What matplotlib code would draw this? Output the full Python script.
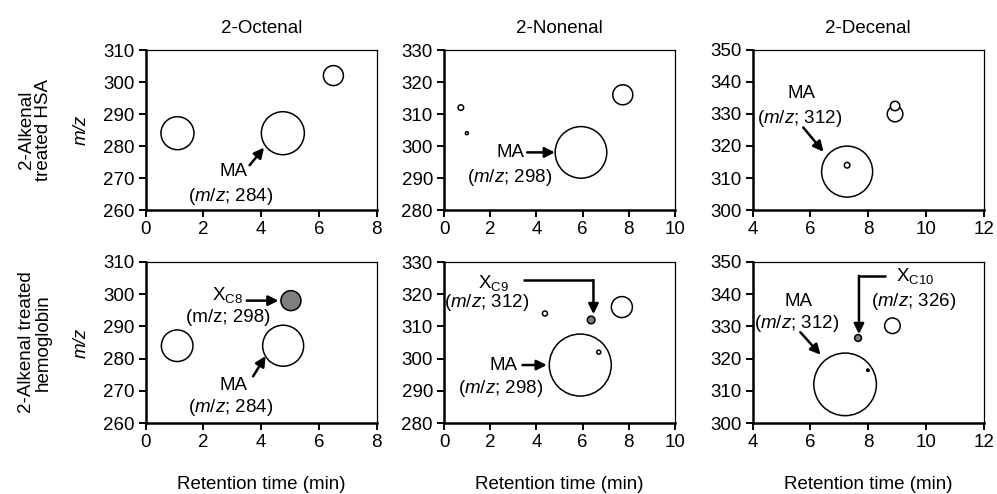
import numpy as np
import matplotlib.pyplot as plt

plt.rcParams['font.family'] = ['Liberation Sans', 'DejaVu Sans']
plt.rcParams['font.size'] = 13.5
plt.rcParams['mathtext.fontset'] = 'custom'
plt.rcParams['mathtext.rm'] = 'Liberation Sans'
plt.rcParams['mathtext.it'] = 'Liberation Sans:italic'

# columns / rows
aldehydes = ['2-Octenal', '2-Nonenal', '2-Decenal']
row_labels = ['2-Alkenal\ntreated HSA', '2-Alkenal treated\nhemoglobin']
xlims = [(0, 8), (0, 10), (4, 12)]
ylims = [(260, 310), (280, 330), (300, 350)]
xticks = [[0, 2, 4, 6, 8], [0, 2, 4, 6, 8, 10], [4, 6, 8, 10, 12]]

# bubble data: retention time (min), m/z, relative size, fill (0 none, 1 X adduct, 2 dot)
oct_hsa_rt = [1.1, 4.75, 6.5]
oct_hsa_mz = [284, 284, 302]
oct_hsa_size = [16.5, 21.5, 10]
oct_hsa_fill = [0, 0, 0]

non_hsa_rt = [0.73, 0.99, 5.93, 7.74]
non_hsa_mz = [312, 304, 298, 316]
non_hsa_size = [2.8, 1.5, 25.8, 10]
non_hsa_fill = [0, 0, 0, 0]

dec_hsa_rt = [7.27, 7.27, 8.93, 8.93]
dec_hsa_mz = [312, 314, 330, 332.5]
dec_hsa_size = [25.5, 2.8, 7.8, 4.7]
dec_hsa_fill = [0, 0, 0, 0]

oct_hb_rt = [1.09, 4.76, 5.03]
oct_hb_mz = [284, 284, 298]
oct_hb_size = [15.8, 20.5, 10]
oct_hb_fill = [0, 0, 1]

non_hb_rt = [4.37, 6.37, 7.70, 5.90, 6.70]
non_hb_mz = [314, 312, 316, 298, 302]
non_hb_size = [2.5, 3.8, 10.5, 31, 2]
non_hb_fill = [0, 1, 0, 0, 0]

dec_hb_rt = [7.2, 7.99, 7.65, 8.84]
dec_hb_mz = [312, 316.4, 326.4, 330.2]
dec_hb_size = [31.3, 1.2, 3.4, 7.8]
dec_hb_fill = [0, 2, 1, 0]

panels = [
    [(oct_hsa_rt, oct_hsa_mz, oct_hsa_size, oct_hsa_fill),
     (non_hsa_rt, non_hsa_mz, non_hsa_size, non_hsa_fill),
     (dec_hsa_rt, dec_hsa_mz, dec_hsa_size, dec_hsa_fill)],
    [(oct_hb_rt, oct_hb_mz, oct_hb_size, oct_hb_fill),
     (non_hb_rt, non_hb_mz, non_hb_size, non_hb_fill),
     (dec_hb_rt, dec_hb_mz, dec_hb_size, dec_hb_fill)],
]

fill_colors = ['white', '#7f7f7f', 'black']

W, H = 997, 494
fig = plt.figure(figsize=(W / 100, H / 100), dpi=100)

col_left = [145.7, 444, 752.7]
ax_w = 231
row_top = [50, 262]
ax_h = [160, 161]

axes = []
for r in range(2):
    row = []
    for c in range(3):
        ax = fig.add_axes([col_left[c] / W, 1 - (row_top[r] + ax_h[r]) / H,
                           ax_w / W, ax_h[r] / H])
        rt, mz, size, fill = panels[r][c]
        # size given as radius in pixels -> marker area in points^2
        s = (2 * np.array(size) * 0.72) ** 2
        ax.scatter(rt, mz, s=s, c=[fill_colors[f] for f in fill],
                   edgecolors='black', linewidths=1.1, zorder=3)
        ax.set_xlim(*xlims[c])
        ax.set_ylim(*ylims[c])
        ax.set_xticks(xticks[c])
        ax.set_yticks(np.arange(ylims[c][0], ylims[c][1] + 1, 10))
        ax.tick_params(direction='out', length=5, width=1.4, labelsize=13.5, pad=3)
        for side in ['left', 'bottom']:
            ax.spines[side].set_linewidth(1.8)
        for side in ['top', 'right']:
            ax.spines[side].set_linewidth(0.9)
        if r == 0:
            ax.set_title(aldehydes[c], fontsize=13.5, pad=12)
        else:
            ax.set_xlabel('Retention time (min)', fontsize=13.5, labelpad=18)
        if c == 0:
            ax.set_ylabel('m/z', fontstyle='italic', fontsize=13.5, labelpad=10)
        row.append(ax)
    axes.append(row)

for r in range(2):
    yc = 1 - (row_top[r] + ax_h[r] / 2) / H
    fig.text(35 / W, yc, row_labels[r], rotation=90, ha='center', va='center',
             fontsize=13.5, linespacing=1.0)

arrow = dict(arrowstyle='-|>', color='black', lw=1.8, mutation_scale=15,
             shrinkA=0, shrinkB=0)
mz_it = r'($\mathit{m/z}$; '

# top row
ax = axes[0][0]
ax.text(3.05, 272, 'MA', ha='center', va='center')
ax.text(2.95, 264.2, mz_it + '284)', ha='center', va='center')
ax.annotate('', xy=(4.1, 279.5), xytext=(3.6, 274), arrowprops=arrow)

ax = axes[0][1]
ax.text(2.88, 298, 'MA', ha='center', va='center')
ax.text(2.85, 290.3, mz_it + '298)', ha='center', va='center')
ax.annotate('', xy=(4.8, 298), xytext=(3.6, 298), arrowprops=arrow)

ax = axes[0][2]
ax.text(5.7, 336.5, 'MA', ha='center', va='center')
ax.text(5.62, 328.7, mz_it + '312)', ha='center', va='center')
ax.annotate('', xy=(6.45, 318.2), xytext=(5.75, 325.8), arrowprops=arrow)

# bottom row
ax = axes[1][0]
ax.text(2.83, 299.8, r'X$_{\mathrm{C8}}$', ha='center', va='center')
ax.text(2.85, 292.7, '(m/z; 298)', ha='center', va='center')
ax.annotate('', xy=(4.6, 298), xytext=(3.5, 298), arrowprops=arrow)
ax.text(3.05, 271.8, 'MA', ha='center', va='center')
ax.text(2.95, 264.7, mz_it + '284)', ha='center', va='center')
ax.annotate('', xy=(4.15, 280.8), xytext=(3.72, 274.5), arrowprops=arrow)

ax = axes[1][1]
ax.text(2.13, 323.6, r'X$_{\mathrm{C9}}$', ha='center', va='center')
ax.text(1.86, 317.4, mz_it + '312)', ha='center', va='center')
ax.plot([3.4, 6.47], [324.4, 324.4], color='black', lw=1.8, solid_capstyle='butt')
ax.annotate('', xy=(6.47, 313.8), xytext=(6.47, 324.4), arrowprops=arrow)
ax.text(2.57, 298, 'MA', ha='center', va='center')
ax.text(2.44, 290.6, mz_it + '298)', ha='center', va='center')
ax.annotate('', xy=(4.45, 298), xytext=(3.4, 298), arrowprops=arrow)

ax = axes[1][2]
ax.text(9.62, 345.7, r'X$_{\mathrm{C10}}$', ha='center', va='center')
ax.text(9.58, 337.7, mz_it + '326)', ha='center', va='center')
ax.plot([8.63, 7.68], [345.7, 345.7], color='black', lw=1.8, solid_capstyle='butt')
ax.annotate('', xy=(7.68, 327.6), xytext=(7.68, 345.7), arrowprops=arrow)
ax.text(5.6, 337.7, 'MA', ha='center', va='center')
ax.text(5.52, 331, mz_it + '312)', ha='center', va='center')
ax.annotate('', xy=(6.35, 321.2), xytext=(5.65, 328.2), arrowprops=arrow)

fig.savefig('out.png', dpi=100)
